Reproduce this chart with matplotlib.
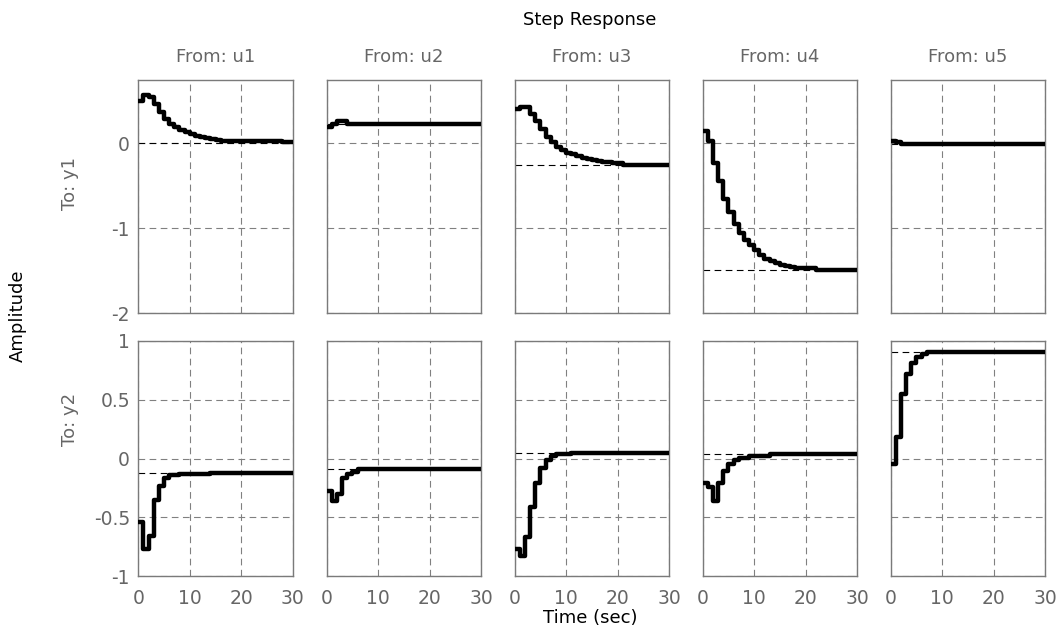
import matplotlib
matplotlib.use("Agg")
import matplotlib.pyplot as plt
import numpy as np

# step response data, values held from each time until the next one
inputs = ["u1", "u2", "u3", "u4", "u5"]
outputs = ["y1", "y2"]

t_11 = [0, 1, 2, 3, 4, 5, 6, 7, 8, 9, 10, 11, 12, 13, 14, 15, 16, 28, 30]
v_11 = [0.50, 0.57, 0.55, 0.46, 0.37, 0.29, 0.23, 0.19, 0.16, 0.13, 0.11, 0.09, 0.07, 0.06, 0.05, 0.04, 0.03, 0.01, 0.01]
t_12 = [0, 1, 2, 4, 30]
v_12 = [0.19, 0.23, 0.26, 0.23, 0.23]
t_13 = [0, 1, 2, 3, 4, 5, 6, 7, 8, 9, 10, 11, 12, 13, 14, 15, 16, 17, 18, 19, 20, 21, 30]
v_13 = [0.40, 0.43, 0.43, 0.35, 0.26, 0.17, 0.08, 0.01, -0.04, -0.08, -0.11, -0.13, -0.15, -0.17, -0.19, -0.20, -0.21, -0.22, -0.22, -0.23, -0.23, -0.25, -0.25]
t_14 = [0, 1, 2, 3, 4, 5, 6, 7, 8, 9, 10, 11, 12, 13, 14, 15, 16, 17, 18, 22, 30]
v_14 = [0.15, 0.03, -0.23, -0.44, -0.65, -0.81, -0.95, -1.05, -1.14, -1.20, -1.26, -1.31, -1.36, -1.39, -1.41, -1.43, -1.44, -1.45, -1.465, -1.49, -1.49]
t_15 = [0, 1, 2, 30]
v_15 = [0.03, 0.01, -0.01, -0.01]

t_21 = [0, 1, 2, 3, 4, 5, 6, 8, 14, 30]
v_21 = [-0.54, -0.77, -0.66, -0.35, -0.23, -0.17, -0.14, -0.135, -0.12, -0.12]
t_22 = [0, 1, 2, 3, 4, 5, 6, 30]
v_22 = [-0.28, -0.36, -0.30, -0.17, -0.13, -0.115, -0.09, -0.09]
t_23 = [0, 1, 2, 3, 4, 5, 6, 7, 8, 11, 30]
v_23 = [-0.77, -0.83, -0.67, -0.41, -0.21, -0.08, -0.01, 0.02, 0.035, 0.05, 0.05]
t_24 = [0, 1, 2, 3, 4, 5, 6, 7, 9, 13, 30]
v_24 = [-0.21, -0.24, -0.36, -0.21, -0.11, -0.05, -0.01, 0.005, 0.02, 0.035, 0.035]
t_25 = [0, 1, 2, 3, 4, 5, 6, 7, 30]
v_25 = [-0.05, 0.18, 0.55, 0.72, 0.81, 0.86, 0.89, 0.91, 0.91]

final_1 = [0.0, 0.23, -0.25, -1.49, -0.01]
final_2 = [-0.12, -0.09, 0.05, 0.035, 0.91]

row1 = [(t_11, v_11), (t_12, v_12), (t_13, v_13), (t_14, v_14), (t_15, v_15)]
row2 = [(t_21, v_21), (t_22, v_22), (t_23, v_23), (t_24, v_24), (t_25, v_25)]

xticks = [0, 10, 20, 30]
yticks_1 = [-2, -1, 0]
yticks_2 = [-1, -0.5, 0, 0.5, 1]
ytl_2 = ["-1", "-0.5", "0", "0.5", "1"]

gray = "#666666"
W, H = 1058, 634
fig = plt.figure(figsize=(W / 100, H / 100), dpi=100)
plt.rcParams['font.family'] = ['DejaVu Sans']

lefts = [138.3, 326.7, 514.7, 702.7, 890.7]
aw = 154.4
rows = [(80, 313.3), (341, 576)]

for r in range(2):
	data = row1 if r == 0 else row2
	finals = final_1 if r == 0 else final_2
	top, bot = rows[r]
	for c in range(5):
		ax = fig.add_axes([lefts[c] / W, 1 - bot / H, aw / W, (bot - top) / H])
		t, v = data[c]
		ax.axhline(finals[c], color="k", lw=0.8, ls=(0, (6, 4)), zorder=2)
		ax.step(t, v, where="post", color="k", lw=3.2, zorder=3)
		ax.set_xlim(0, 30)
		if r == 0:
			ax.set_ylim(-2, 0.745)
			ax.set_yticks(yticks_1)
			ax.set_yticklabels(["-2", "-1", "0"])
		else:
			ax.set_ylim(-1, 1)
			ax.set_yticks(yticks_2)
			ax.set_yticklabels(ytl_2)
		ax.set_xticks(xticks)
		ax.grid(True, color="#808080", ls=(0, (6, 4)), lw=0.8)
		ax.tick_params(length=0, labelsize=13.5, labelcolor=gray)
		ax.tick_params(axis="x", pad=9)
		ax.tick_params(axis="y", pad=6)
		for s in ax.spines.values():
			s.set_color("#7a7a7a")
			s.set_linewidth(1)
		if c > 0:
			ax.set_yticklabels([])
		if r == 0:
			ax.set_xticklabels([])
			ax.set_title("From: " + inputs[c], fontsize=13, color=gray, pad=13)

fig.text(590 / W, 1 - 20 / H, "Step Response", ha="center", va="center", fontsize=13)
fig.text(590 / W, 1 - 618 / H, "Time (sec)", ha="center", va="center", fontsize=13)
fig.text(18 / W, 1 - 316 / H, "Amplitude", ha="center", va="center", rotation=90, fontsize=13)
fig.text(70 / W, 1 - 184 / H, "To: y1", ha="center", va="center", rotation=90, fontsize=13, color=gray)
fig.text(70 / W, 1 - 419 / H, "To: y2", ha="center", va="center", rotation=90, fontsize=13, color=gray)

fig.savefig("out.png", dpi=100)
